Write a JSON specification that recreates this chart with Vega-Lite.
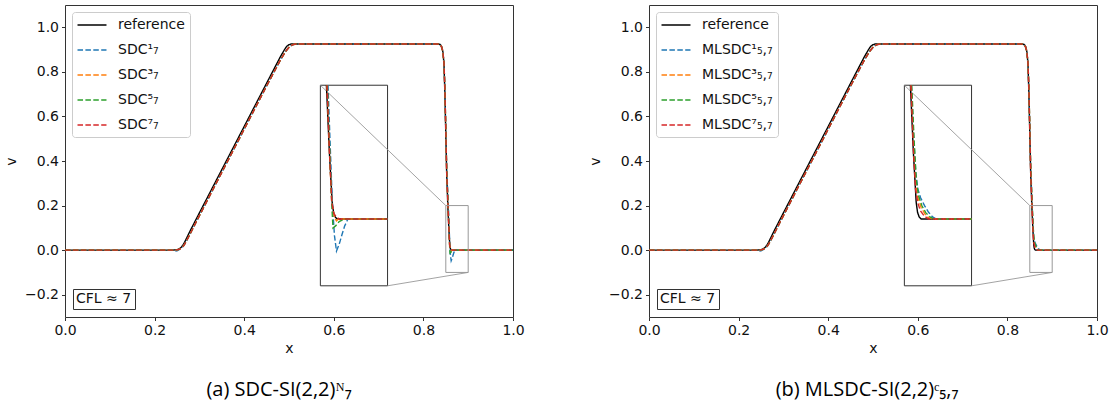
{
  "$schema": "https://vega.github.io/schema/vega-lite/v6.json",
  "padding": {"left": 4, "top": 4, "right": 5, "bottom": 5},
  "spacing": 136,
  "bounds": "flush",
  "datasets": {
    "curves": [
      {"p":"both","s":"reference","x":0,"v":0},{"p":"both","s":"reference","x":0.24,"v":0},{"p":"both","s":"reference","x":0.25,"v":0.002},{"p":"both","s":"reference","x":0.255,"v":0.006},{"p":"both","s":"reference","x":0.26,"v":0.014},{"p":"both","s":"reference","x":0.265,"v":0.028},{"p":"both","s":"reference","x":0.27,"v":0.048},{"p":"both","s":"reference","x":0.28,"v":0.089},{"p":"both","s":"reference","x":0.3,"v":0.167},{"p":"both","s":"reference","x":0.35,"v":0.361},{"p":"both","s":"reference","x":0.4,"v":0.555},{"p":"both","s":"reference","x":0.45,"v":0.749},{"p":"both","s":"reference","x":0.48,"v":0.865},{"p":"both","s":"reference","x":0.49,"v":0.9},{"p":"both","s":"reference","x":0.495,"v":0.915},{"p":"both","s":"reference","x":0.5,"v":0.922},{"p":"both","s":"reference","x":0.505,"v":0.925},{"p":"both","s":"reference","x":0.7,"v":0.925},{"p":"both","s":"reference","x":0.834,"v":0.925},{"p":"both","s":"reference","x":0.838,"v":0.922},{"p":"both","s":"reference","x":0.841,"v":0.912},{"p":"both","s":"reference","x":0.844,"v":0.885},{"p":"both","s":"reference","x":0.846,"v":0.83},{"p":"both","s":"reference","x":0.848,"v":0.7},{"p":"both","s":"reference","x":0.85,"v":0.52},{"p":"both","s":"reference","x":0.852,"v":0.34},{"p":"both","s":"reference","x":0.8545,"v":0.2},{"p":"both","s":"reference","x":0.8567,"v":0.1},{"p":"both","s":"reference","x":0.8588,"v":0.025},{"p":"both","s":"reference","x":0.8598,"v":0.01},{"p":"both","s":"reference","x":0.861,"v":0.003},{"p":"both","s":"reference","x":0.8625,"v":0},{"p":"both","s":"reference","x":0.9,"v":0},{"p":"both","s":"reference","x":1,"v":0},

      {"p":"a","s":"SDC¹₇","x":0,"v":0},{"p":"a","s":"SDC¹₇","x":0.24,"v":0},{"p":"a","s":"SDC¹₇","x":0.245,"v":-0.005},{"p":"a","s":"SDC¹₇","x":0.25,"v":-0.003},{"p":"a","s":"SDC¹₇","x":0.255,"v":0.002},{"p":"a","s":"SDC¹₇","x":0.26,"v":0.01},{"p":"a","s":"SDC¹₇","x":0.265,"v":0.02},{"p":"a","s":"SDC¹₇","x":0.27,"v":0.037},{"p":"a","s":"SDC¹₇","x":0.28,"v":0.076},{"p":"a","s":"SDC¹₇","x":0.3,"v":0.155},{"p":"a","s":"SDC¹₇","x":0.35,"v":0.349},{"p":"a","s":"SDC¹₇","x":0.4,"v":0.543},{"p":"a","s":"SDC¹₇","x":0.45,"v":0.737},{"p":"a","s":"SDC¹₇","x":0.48,"v":0.85},{"p":"a","s":"SDC¹₇","x":0.49,"v":0.884},{"p":"a","s":"SDC¹₇","x":0.495,"v":0.898},{"p":"a","s":"SDC¹₇","x":0.5,"v":0.91},{"p":"a","s":"SDC¹₇","x":0.505,"v":0.918},{"p":"a","s":"SDC¹₇","x":0.51,"v":0.923},{"p":"a","s":"SDC¹₇","x":0.515,"v":0.925},{"p":"a","s":"SDC¹₇","x":0.7,"v":0.925},{"p":"a","s":"SDC¹₇","x":0.832,"v":0.925},{"p":"a","s":"SDC¹₇","x":0.836,"v":0.923},{"p":"a","s":"SDC¹₇","x":0.84,"v":0.915},{"p":"a","s":"SDC¹₇","x":0.843,"v":0.895},{"p":"a","s":"SDC¹₇","x":0.846,"v":0.84},{"p":"a","s":"SDC¹₇","x":0.848,"v":0.72},{"p":"a","s":"SDC¹₇","x":0.85,"v":0.54},{"p":"a","s":"SDC¹₇","x":0.852,"v":0.37},{"p":"a","s":"SDC¹₇","x":0.8557,"v":0.2},{"p":"a","s":"SDC¹₇","x":0.8575,"v":0.1},{"p":"a","s":"SDC¹₇","x":0.859,"v":0.02},{"p":"a","s":"SDC¹₇","x":0.8605,"v":-0.025},{"p":"a","s":"SDC¹₇","x":0.862,"v":-0.048},{"p":"a","s":"SDC¹₇","x":0.864,"v":-0.038},{"p":"a","s":"SDC¹₇","x":0.866,"v":-0.024},{"p":"a","s":"SDC¹₇","x":0.868,"v":-0.011},{"p":"a","s":"SDC¹₇","x":0.8705,"v":0},{"p":"a","s":"SDC¹₇","x":0.9,"v":0},{"p":"a","s":"SDC¹₇","x":1,"v":0},

      {"p":"a","s":"SDC³₇","x":0,"v":0},{"p":"a","s":"SDC³₇","x":0.24,"v":0},{"p":"a","s":"SDC³₇","x":0.25,"v":0.001},{"p":"a","s":"SDC³₇","x":0.255,"v":0.004},{"p":"a","s":"SDC³₇","x":0.26,"v":0.01},{"p":"a","s":"SDC³₇","x":0.265,"v":0.02},{"p":"a","s":"SDC³₇","x":0.27,"v":0.037},{"p":"a","s":"SDC³₇","x":0.28,"v":0.076},{"p":"a","s":"SDC³₇","x":0.3,"v":0.155},{"p":"a","s":"SDC³₇","x":0.35,"v":0.349},{"p":"a","s":"SDC³₇","x":0.4,"v":0.543},{"p":"a","s":"SDC³₇","x":0.45,"v":0.737},{"p":"a","s":"SDC³₇","x":0.48,"v":0.85},{"p":"a","s":"SDC³₇","x":0.49,"v":0.884},{"p":"a","s":"SDC³₇","x":0.495,"v":0.898},{"p":"a","s":"SDC³₇","x":0.5,"v":0.91},{"p":"a","s":"SDC³₇","x":0.505,"v":0.918},{"p":"a","s":"SDC³₇","x":0.51,"v":0.923},{"p":"a","s":"SDC³₇","x":0.515,"v":0.925},{"p":"a","s":"SDC³₇","x":0.7,"v":0.925},{"p":"a","s":"SDC³₇","x":0.832,"v":0.925},{"p":"a","s":"SDC³₇","x":0.836,"v":0.923},{"p":"a","s":"SDC³₇","x":0.84,"v":0.915},{"p":"a","s":"SDC³₇","x":0.843,"v":0.895},{"p":"a","s":"SDC³₇","x":0.846,"v":0.84},{"p":"a","s":"SDC³₇","x":0.848,"v":0.72},{"p":"a","s":"SDC³₇","x":0.85,"v":0.54},{"p":"a","s":"SDC³₇","x":0.852,"v":0.35},{"p":"a","s":"SDC³₇","x":0.855,"v":0.2},{"p":"a","s":"SDC³₇","x":0.857,"v":0.09},{"p":"a","s":"SDC³₇","x":0.8585,"v":0.025},{"p":"a","s":"SDC³₇","x":0.8605,"v":0.002},{"p":"a","s":"SDC³₇","x":0.862,"v":-0.003},{"p":"a","s":"SDC³₇","x":0.864,"v":0.001},{"p":"a","s":"SDC³₇","x":0.866,"v":0},{"p":"a","s":"SDC³₇","x":0.9,"v":0},{"p":"a","s":"SDC³₇","x":1,"v":0},

      {"p":"a","s":"SDC⁵₇","x":0,"v":0},{"p":"a","s":"SDC⁵₇","x":0.24,"v":0},{"p":"a","s":"SDC⁵₇","x":0.25,"v":0.001},{"p":"a","s":"SDC⁵₇","x":0.255,"v":0.004},{"p":"a","s":"SDC⁵₇","x":0.26,"v":0.01},{"p":"a","s":"SDC⁵₇","x":0.265,"v":0.02},{"p":"a","s":"SDC⁵₇","x":0.27,"v":0.037},{"p":"a","s":"SDC⁵₇","x":0.28,"v":0.076},{"p":"a","s":"SDC⁵₇","x":0.3,"v":0.155},{"p":"a","s":"SDC⁵₇","x":0.35,"v":0.349},{"p":"a","s":"SDC⁵₇","x":0.4,"v":0.543},{"p":"a","s":"SDC⁵₇","x":0.45,"v":0.737},{"p":"a","s":"SDC⁵₇","x":0.48,"v":0.85},{"p":"a","s":"SDC⁵₇","x":0.49,"v":0.884},{"p":"a","s":"SDC⁵₇","x":0.495,"v":0.898},{"p":"a","s":"SDC⁵₇","x":0.5,"v":0.91},{"p":"a","s":"SDC⁵₇","x":0.505,"v":0.918},{"p":"a","s":"SDC⁵₇","x":0.51,"v":0.923},{"p":"a","s":"SDC⁵₇","x":0.515,"v":0.925},{"p":"a","s":"SDC⁵₇","x":0.7,"v":0.925},{"p":"a","s":"SDC⁵₇","x":0.832,"v":0.925},{"p":"a","s":"SDC⁵₇","x":0.836,"v":0.923},{"p":"a","s":"SDC⁵₇","x":0.84,"v":0.915},{"p":"a","s":"SDC⁵₇","x":0.843,"v":0.895},{"p":"a","s":"SDC⁵₇","x":0.846,"v":0.84},{"p":"a","s":"SDC⁵₇","x":0.848,"v":0.72},{"p":"a","s":"SDC⁵₇","x":0.85,"v":0.54},{"p":"a","s":"SDC⁵₇","x":0.852,"v":0.36},{"p":"a","s":"SDC⁵₇","x":0.8552,"v":0.2},{"p":"a","s":"SDC⁵₇","x":0.857,"v":0.1},{"p":"a","s":"SDC⁵₇","x":0.8585,"v":0.02},{"p":"a","s":"SDC⁵₇","x":0.8594,"v":-0.0135},{"p":"a","s":"SDC⁵₇","x":0.8615,"v":-0.01},{"p":"a","s":"SDC⁵₇","x":0.864,"v":-0.004},{"p":"a","s":"SDC⁵₇","x":0.868,"v":0},{"p":"a","s":"SDC⁵₇","x":0.9,"v":0},{"p":"a","s":"SDC⁵₇","x":1,"v":0},

      {"p":"a","s":"SDC⁷₇","x":0,"v":0},{"p":"a","s":"SDC⁷₇","x":0.24,"v":0},{"p":"a","s":"SDC⁷₇","x":0.25,"v":0.001},{"p":"a","s":"SDC⁷₇","x":0.255,"v":0.004},{"p":"a","s":"SDC⁷₇","x":0.26,"v":0.01},{"p":"a","s":"SDC⁷₇","x":0.265,"v":0.02},{"p":"a","s":"SDC⁷₇","x":0.27,"v":0.037},{"p":"a","s":"SDC⁷₇","x":0.28,"v":0.076},{"p":"a","s":"SDC⁷₇","x":0.3,"v":0.155},{"p":"a","s":"SDC⁷₇","x":0.35,"v":0.349},{"p":"a","s":"SDC⁷₇","x":0.4,"v":0.543},{"p":"a","s":"SDC⁷₇","x":0.45,"v":0.737},{"p":"a","s":"SDC⁷₇","x":0.48,"v":0.85},{"p":"a","s":"SDC⁷₇","x":0.49,"v":0.884},{"p":"a","s":"SDC⁷₇","x":0.495,"v":0.898},{"p":"a","s":"SDC⁷₇","x":0.5,"v":0.91},{"p":"a","s":"SDC⁷₇","x":0.505,"v":0.918},{"p":"a","s":"SDC⁷₇","x":0.51,"v":0.923},{"p":"a","s":"SDC⁷₇","x":0.515,"v":0.925},{"p":"a","s":"SDC⁷₇","x":0.7,"v":0.925},{"p":"a","s":"SDC⁷₇","x":0.832,"v":0.925},{"p":"a","s":"SDC⁷₇","x":0.836,"v":0.923},{"p":"a","s":"SDC⁷₇","x":0.84,"v":0.915},{"p":"a","s":"SDC⁷₇","x":0.843,"v":0.895},{"p":"a","s":"SDC⁷₇","x":0.846,"v":0.84},{"p":"a","s":"SDC⁷₇","x":0.848,"v":0.72},{"p":"a","s":"SDC⁷₇","x":0.85,"v":0.54},{"p":"a","s":"SDC⁷₇","x":0.852,"v":0.35},{"p":"a","s":"SDC⁷₇","x":0.855,"v":0.2},{"p":"a","s":"SDC⁷₇","x":0.857,"v":0.09},{"p":"a","s":"SDC⁷₇","x":0.8585,"v":0.025},{"p":"a","s":"SDC⁷₇","x":0.86,"v":0.008},{"p":"a","s":"SDC⁷₇","x":0.862,"v":0.003},{"p":"a","s":"SDC⁷₇","x":0.864,"v":0},{"p":"a","s":"SDC⁷₇","x":0.9,"v":0},{"p":"a","s":"SDC⁷₇","x":1,"v":0},

      {"p":"b","s":"MLSDC¹₅,₇","x":0,"v":0},{"p":"b","s":"MLSDC¹₅,₇","x":0.24,"v":0},{"p":"b","s":"MLSDC¹₅,₇","x":0.245,"v":-0.005},{"p":"b","s":"MLSDC¹₅,₇","x":0.25,"v":-0.003},{"p":"b","s":"MLSDC¹₅,₇","x":0.255,"v":0.002},{"p":"b","s":"MLSDC¹₅,₇","x":0.26,"v":0.01},{"p":"b","s":"MLSDC¹₅,₇","x":0.265,"v":0.02},{"p":"b","s":"MLSDC¹₅,₇","x":0.27,"v":0.037},{"p":"b","s":"MLSDC¹₅,₇","x":0.28,"v":0.076},{"p":"b","s":"MLSDC¹₅,₇","x":0.3,"v":0.155},{"p":"b","s":"MLSDC¹₅,₇","x":0.35,"v":0.349},{"p":"b","s":"MLSDC¹₅,₇","x":0.4,"v":0.543},{"p":"b","s":"MLSDC¹₅,₇","x":0.45,"v":0.737},{"p":"b","s":"MLSDC¹₅,₇","x":0.48,"v":0.85},{"p":"b","s":"MLSDC¹₅,₇","x":0.49,"v":0.884},{"p":"b","s":"MLSDC¹₅,₇","x":0.495,"v":0.898},{"p":"b","s":"MLSDC¹₅,₇","x":0.5,"v":0.91},{"p":"b","s":"MLSDC¹₅,₇","x":0.505,"v":0.918},{"p":"b","s":"MLSDC¹₅,₇","x":0.51,"v":0.923},{"p":"b","s":"MLSDC¹₅,₇","x":0.515,"v":0.925},{"p":"b","s":"MLSDC¹₅,₇","x":0.7,"v":0.925},{"p":"b","s":"MLSDC¹₅,₇","x":0.832,"v":0.925},{"p":"b","s":"MLSDC¹₅,₇","x":0.836,"v":0.923},{"p":"b","s":"MLSDC¹₅,₇","x":0.84,"v":0.915},{"p":"b","s":"MLSDC¹₅,₇","x":0.843,"v":0.895},{"p":"b","s":"MLSDC¹₅,₇","x":0.846,"v":0.84},{"p":"b","s":"MLSDC¹₅,₇","x":0.848,"v":0.72},{"p":"b","s":"MLSDC¹₅,₇","x":0.85,"v":0.54},{"p":"b","s":"MLSDC¹₅,₇","x":0.852,"v":0.37},{"p":"b","s":"MLSDC¹₅,₇","x":0.8552,"v":0.2},{"p":"b","s":"MLSDC¹₅,₇","x":0.857,"v":0.12},{"p":"b","s":"MLSDC¹₅,₇","x":0.8585,"v":0.07},{"p":"b","s":"MLSDC¹₅,₇","x":0.86,"v":0.045},{"p":"b","s":"MLSDC¹₅,₇","x":0.862,"v":0.032},{"p":"b","s":"MLSDC¹₅,₇","x":0.865,"v":0.02},{"p":"b","s":"MLSDC¹₅,₇","x":0.868,"v":0.01},{"p":"b","s":"MLSDC¹₅,₇","x":0.871,"v":0.003},{"p":"b","s":"MLSDC¹₅,₇","x":0.8735,"v":0},{"p":"b","s":"MLSDC¹₅,₇","x":0.9,"v":0},{"p":"b","s":"MLSDC¹₅,₇","x":1,"v":0},

      {"p":"b","s":"MLSDC³₅,₇","x":0,"v":0},{"p":"b","s":"MLSDC³₅,₇","x":0.24,"v":0},{"p":"b","s":"MLSDC³₅,₇","x":0.25,"v":0.001},{"p":"b","s":"MLSDC³₅,₇","x":0.255,"v":0.004},{"p":"b","s":"MLSDC³₅,₇","x":0.26,"v":0.01},{"p":"b","s":"MLSDC³₅,₇","x":0.265,"v":0.02},{"p":"b","s":"MLSDC³₅,₇","x":0.27,"v":0.037},{"p":"b","s":"MLSDC³₅,₇","x":0.28,"v":0.076},{"p":"b","s":"MLSDC³₅,₇","x":0.3,"v":0.155},{"p":"b","s":"MLSDC³₅,₇","x":0.35,"v":0.349},{"p":"b","s":"MLSDC³₅,₇","x":0.4,"v":0.543},{"p":"b","s":"MLSDC³₅,₇","x":0.45,"v":0.737},{"p":"b","s":"MLSDC³₅,₇","x":0.48,"v":0.85},{"p":"b","s":"MLSDC³₅,₇","x":0.49,"v":0.884},{"p":"b","s":"MLSDC³₅,₇","x":0.495,"v":0.898},{"p":"b","s":"MLSDC³₅,₇","x":0.5,"v":0.91},{"p":"b","s":"MLSDC³₅,₇","x":0.505,"v":0.918},{"p":"b","s":"MLSDC³₅,₇","x":0.51,"v":0.923},{"p":"b","s":"MLSDC³₅,₇","x":0.515,"v":0.925},{"p":"b","s":"MLSDC³₅,₇","x":0.7,"v":0.925},{"p":"b","s":"MLSDC³₅,₇","x":0.832,"v":0.925},{"p":"b","s":"MLSDC³₅,₇","x":0.836,"v":0.923},{"p":"b","s":"MLSDC³₅,₇","x":0.84,"v":0.915},{"p":"b","s":"MLSDC³₅,₇","x":0.843,"v":0.895},{"p":"b","s":"MLSDC³₅,₇","x":0.846,"v":0.84},{"p":"b","s":"MLSDC³₅,₇","x":0.848,"v":0.72},{"p":"b","s":"MLSDC³₅,₇","x":0.85,"v":0.54},{"p":"b","s":"MLSDC³₅,₇","x":0.852,"v":0.36},{"p":"b","s":"MLSDC³₅,₇","x":0.855,"v":0.2},{"p":"b","s":"MLSDC³₅,₇","x":0.857,"v":0.11},{"p":"b","s":"MLSDC³₅,₇","x":0.8585,"v":0.055},{"p":"b","s":"MLSDC³₅,₇","x":0.86,"v":0.032},{"p":"b","s":"MLSDC³₅,₇","x":0.8625,"v":0.017},{"p":"b","s":"MLSDC³₅,₇","x":0.8655,"v":0.007},{"p":"b","s":"MLSDC³₅,₇","x":0.868,"v":0.002},{"p":"b","s":"MLSDC³₅,₇","x":0.871,"v":0},{"p":"b","s":"MLSDC³₅,₇","x":0.9,"v":0},{"p":"b","s":"MLSDC³₅,₇","x":1,"v":0},

      {"p":"b","s":"MLSDC⁵₅,₇","x":0,"v":0},{"p":"b","s":"MLSDC⁵₅,₇","x":0.24,"v":0},{"p":"b","s":"MLSDC⁵₅,₇","x":0.25,"v":0.001},{"p":"b","s":"MLSDC⁵₅,₇","x":0.255,"v":0.004},{"p":"b","s":"MLSDC⁵₅,₇","x":0.26,"v":0.01},{"p":"b","s":"MLSDC⁵₅,₇","x":0.265,"v":0.02},{"p":"b","s":"MLSDC⁵₅,₇","x":0.27,"v":0.037},{"p":"b","s":"MLSDC⁵₅,₇","x":0.28,"v":0.076},{"p":"b","s":"MLSDC⁵₅,₇","x":0.3,"v":0.155},{"p":"b","s":"MLSDC⁵₅,₇","x":0.35,"v":0.349},{"p":"b","s":"MLSDC⁵₅,₇","x":0.4,"v":0.543},{"p":"b","s":"MLSDC⁵₅,₇","x":0.45,"v":0.737},{"p":"b","s":"MLSDC⁵₅,₇","x":0.48,"v":0.85},{"p":"b","s":"MLSDC⁵₅,₇","x":0.49,"v":0.884},{"p":"b","s":"MLSDC⁵₅,₇","x":0.495,"v":0.898},{"p":"b","s":"MLSDC⁵₅,₇","x":0.5,"v":0.91},{"p":"b","s":"MLSDC⁵₅,₇","x":0.505,"v":0.918},{"p":"b","s":"MLSDC⁵₅,₇","x":0.51,"v":0.923},{"p":"b","s":"MLSDC⁵₅,₇","x":0.515,"v":0.925},{"p":"b","s":"MLSDC⁵₅,₇","x":0.7,"v":0.925},{"p":"b","s":"MLSDC⁵₅,₇","x":0.832,"v":0.925},{"p":"b","s":"MLSDC⁵₅,₇","x":0.836,"v":0.923},{"p":"b","s":"MLSDC⁵₅,₇","x":0.84,"v":0.915},{"p":"b","s":"MLSDC⁵₅,₇","x":0.843,"v":0.895},{"p":"b","s":"MLSDC⁵₅,₇","x":0.846,"v":0.84},{"p":"b","s":"MLSDC⁵₅,₇","x":0.848,"v":0.72},{"p":"b","s":"MLSDC⁵₅,₇","x":0.85,"v":0.55},{"p":"b","s":"MLSDC⁵₅,₇","x":0.852,"v":0.38},{"p":"b","s":"MLSDC⁵₅,₇","x":0.8555,"v":0.2},{"p":"b","s":"MLSDC⁵₅,₇","x":0.8572,"v":0.12},{"p":"b","s":"MLSDC⁵₅,₇","x":0.8588,"v":0.06},{"p":"b","s":"MLSDC⁵₅,₇","x":0.8605,"v":0.035},{"p":"b","s":"MLSDC⁵₅,₇","x":0.863,"v":0.02},{"p":"b","s":"MLSDC⁵₅,₇","x":0.866,"v":0.009},{"p":"b","s":"MLSDC⁵₅,₇","x":0.869,"v":0.003},{"p":"b","s":"MLSDC⁵₅,₇","x":0.872,"v":0},{"p":"b","s":"MLSDC⁵₅,₇","x":0.9,"v":0},{"p":"b","s":"MLSDC⁵₅,₇","x":1,"v":0},

      {"p":"b","s":"MLSDC⁷₅,₇","x":0,"v":0},{"p":"b","s":"MLSDC⁷₅,₇","x":0.24,"v":0},{"p":"b","s":"MLSDC⁷₅,₇","x":0.25,"v":0.001},{"p":"b","s":"MLSDC⁷₅,₇","x":0.255,"v":0.004},{"p":"b","s":"MLSDC⁷₅,₇","x":0.26,"v":0.01},{"p":"b","s":"MLSDC⁷₅,₇","x":0.265,"v":0.02},{"p":"b","s":"MLSDC⁷₅,₇","x":0.27,"v":0.037},{"p":"b","s":"MLSDC⁷₅,₇","x":0.28,"v":0.076},{"p":"b","s":"MLSDC⁷₅,₇","x":0.3,"v":0.155},{"p":"b","s":"MLSDC⁷₅,₇","x":0.35,"v":0.349},{"p":"b","s":"MLSDC⁷₅,₇","x":0.4,"v":0.543},{"p":"b","s":"MLSDC⁷₅,₇","x":0.45,"v":0.737},{"p":"b","s":"MLSDC⁷₅,₇","x":0.48,"v":0.85},{"p":"b","s":"MLSDC⁷₅,₇","x":0.49,"v":0.884},{"p":"b","s":"MLSDC⁷₅,₇","x":0.495,"v":0.898},{"p":"b","s":"MLSDC⁷₅,₇","x":0.5,"v":0.91},{"p":"b","s":"MLSDC⁷₅,₇","x":0.505,"v":0.918},{"p":"b","s":"MLSDC⁷₅,₇","x":0.51,"v":0.923},{"p":"b","s":"MLSDC⁷₅,₇","x":0.515,"v":0.925},{"p":"b","s":"MLSDC⁷₅,₇","x":0.7,"v":0.925},{"p":"b","s":"MLSDC⁷₅,₇","x":0.832,"v":0.925},{"p":"b","s":"MLSDC⁷₅,₇","x":0.836,"v":0.923},{"p":"b","s":"MLSDC⁷₅,₇","x":0.84,"v":0.915},{"p":"b","s":"MLSDC⁷₅,₇","x":0.843,"v":0.895},{"p":"b","s":"MLSDC⁷₅,₇","x":0.846,"v":0.84},{"p":"b","s":"MLSDC⁷₅,₇","x":0.848,"v":0.72},{"p":"b","s":"MLSDC⁷₅,₇","x":0.85,"v":0.54},{"p":"b","s":"MLSDC⁷₅,₇","x":0.852,"v":0.35},{"p":"b","s":"MLSDC⁷₅,₇","x":0.855,"v":0.2},{"p":"b","s":"MLSDC⁷₅,₇","x":0.8568,"v":0.1},{"p":"b","s":"MLSDC⁷₅,₇","x":0.8583,"v":0.045},{"p":"b","s":"MLSDC⁷₅,₇","x":0.86,"v":0.024},{"p":"b","s":"MLSDC⁷₅,₇","x":0.862,"v":0.012},{"p":"b","s":"MLSDC⁷₅,₇","x":0.865,"v":0.004},{"p":"b","s":"MLSDC⁷₅,₇","x":0.868,"v":0},{"p":"b","s":"MLSDC⁷₅,₇","x":0.9,"v":0},{"p":"b","s":"MLSDC⁷₅,₇","x":1,"v":0}
    ]
  },
  "hconcat": [
    {
      "width": 448,
      "height": 312,
      "data": {"name": "curves"},
      "transform": [{"filter": "datum.p != 'b'"}],
      "title": {"text": "(a)  SDC-SI(2,2)ᴺ₇", "orient": "bottom", "anchor": "middle", "font": "Open Sans", "fontSize": 20, "fontWeight": "normal", "color": "#000", "offset": 24, "dx": -10},
      "layer": [
        {
          "layer": [
            {
              "mark": {"type": "line", "strokeWidth": 1.4},
              "encoding": {
                "x": {"field": "x", "type": "quantitative", "scale": {"domain": [0, 1], "nice": false, "zero": false},
                      "axis": {"title": "x", "values": [0, 0.2, 0.4, 0.6, 0.8, 1], "format": ".1f", "labelFlush": false, "titlePadding": 4}},
                "y": {"field": "v", "type": "quantitative", "scale": {"domain": [-0.3, 1.1], "nice": false, "zero": false},
                      "axis": {"title": "v", "values": [-0.2, 0, 0.2, 0.4, 0.6, 0.8, 1], "labelExpr": "replace(format(datum.value, '.1f'), '-', '−')", "titlePadding": 6}},
                "color": {"field": "s", "type": "nominal", "sort": null,
                          "scale": {"domain": ["reference", "SDC¹₇", "SDC³₇", "SDC⁵₇", "SDC⁷₇"], "range": ["#000000", "#1f77b4", "#ff7f0e", "#2ca02c", "#d62728"]},
                          "legend": {"title": null, "orient": "top-left", "offset": 7, "padding": 5, "fillColor": "white", "strokeColor": "#cccccc", "cornerRadius": 3, "symbolType": "M-2,0H2", "symbolSize": 210, "symbolStrokeWidth": 1.5, "symbolOffset": 7, "labelOffset": 18, "rowPadding": 10, "labelFontSize": 14}},
                "strokeDash": {"field": "s", "type": "nominal", "sort": null,
                               "scale": {"domain": ["reference", "SDC¹₇", "SDC³₇", "SDC⁵₇", "SDC⁷₇"], "range": [[1, 0], [5.5, 2.4], [5.5, 2.4], [5.5, 2.4], [5.5, 2.4]]},
                               "legend": {"title": null, "orient": "top-left", "offset": 7, "padding": 5, "fillColor": "white", "strokeColor": "#cccccc", "cornerRadius": 3, "symbolType": "M-2,0H2", "symbolSize": 210, "symbolStrokeWidth": 1.5, "symbolOffset": 7, "labelOffset": 18, "rowPadding": 10, "labelFontSize": 14}}
              }
            },
            {
              "data": {"values": [{}]},
              "mark": {"type": "rect", "fill": "white", "stroke": "#333333", "strokeWidth": 1},
              "encoding": {"x": {"datum": 0.57}, "x2": {"datum": 0.72}, "y": {"datum": -0.16}, "y2": {"datum": 0.74}}
            },
            {
              "data": {"values": [{}]},
              "mark": {"type": "rect", "fill": null, "stroke": "#999999", "strokeWidth": 1},
              "encoding": {"x": {"datum": 0.85}, "x2": {"datum": 0.9}, "y": {"datum": -0.1}, "y2": {"datum": 0.2}}
            },
            {
              "data": {"values": [{}]},
              "mark": {"type": "rule", "stroke": "#999999", "strokeWidth": 0.9},
              "encoding": {"x": {"datum": 0.57}, "y": {"datum": 0.74}, "x2": {"datum": 0.85}, "y2": {"datum": 0.2}}
            },
            {
              "data": {"values": [{}]},
              "mark": {"type": "rule", "stroke": "#999999", "strokeWidth": 0.9},
              "encoding": {"x": {"datum": 0.72}, "y": {"datum": -0.16}, "x2": {"datum": 0.9}, "y2": {"datum": -0.1}}
            },
            {
              "data": {"values": [{"note": "CFL ≈ 7"}]},
              "mark": {"type": "point", "opacity": 0},
              "encoding": {
                "shape": {"field": "note", "type": "nominal",
                          "legend": {"title": null, "orient": "bottom-left", "offset": 8, "padding": 3, "fillColor": "white", "strokeColor": "#333333", "cornerRadius": 0, "symbolSize": 0, "symbolOpacity": 0, "symbolStrokeWidth": 0, "labelOffset": -14, "labelFontSize": 14}}
              }
            }
          ]
        },
        {
          "transform": [{"filter": "datum.x >= 0.85 && datum.x <= 0.9 && datum.v <= 0.2001"}],
          "mark": {"type": "line", "strokeWidth": 1.4},
          "encoding": {
            "x": {"field": "x", "type": "quantitative", "scale": {"domain": [0.66, 0.993333], "nice": false, "zero": false}, "axis": null},
            "y": {"field": "v", "type": "quantitative", "scale": {"domain": [-0.146667, 0.32], "nice": false, "zero": false}, "axis": null},
            "color": {"field": "s", "type": "nominal", "sort": null},
            "strokeDash": {"field": "s", "type": "nominal", "sort": null}
          }
        }
      ],
      "resolve": {"scale": {"x": "independent", "y": "independent"}}
    },
    {
      "width": 448,
      "height": 312,
      "data": {"name": "curves"},
      "transform": [{"filter": "datum.p != 'a'"}],
      "title": {"text": "(b)  MLSDC-SI(2,2)ᶜ₅,₇", "orient": "bottom", "anchor": "middle", "font": "Open Sans", "fontSize": 20, "fontWeight": "normal", "color": "#000", "offset": 24, "dx": -6},
      "layer": [
        {
          "layer": [
            {
              "mark": {"type": "line", "strokeWidth": 1.4},
              "encoding": {
                "x": {"field": "x", "type": "quantitative", "scale": {"domain": [0, 1], "nice": false, "zero": false},
                      "axis": {"title": "x", "values": [0, 0.2, 0.4, 0.6, 0.8, 1], "format": ".1f", "labelFlush": false, "titlePadding": 4}},
                "y": {"field": "v", "type": "quantitative", "scale": {"domain": [-0.3, 1.1], "nice": false, "zero": false},
                      "axis": {"title": "v", "values": [-0.2, 0, 0.2, 0.4, 0.6, 0.8, 1], "labelExpr": "replace(format(datum.value, '.1f'), '-', '−')", "titlePadding": 6}},
                "color": {"field": "s", "type": "nominal", "sort": null,
                          "scale": {"domain": ["reference", "MLSDC¹₅,₇", "MLSDC³₅,₇", "MLSDC⁵₅,₇", "MLSDC⁷₅,₇"], "range": ["#000000", "#1f77b4", "#ff7f0e", "#2ca02c", "#d62728"]},
                          "legend": {"title": null, "orient": "top-left", "offset": 7, "padding": 5, "fillColor": "white", "strokeColor": "#cccccc", "cornerRadius": 3, "symbolType": "M-2,0H2", "symbolSize": 210, "symbolStrokeWidth": 1.5, "symbolOffset": 7, "labelOffset": 18, "rowPadding": 10, "labelFontSize": 14}},
                "strokeDash": {"field": "s", "type": "nominal", "sort": null,
                               "scale": {"domain": ["reference", "MLSDC¹₅,₇", "MLSDC³₅,₇", "MLSDC⁵₅,₇", "MLSDC⁷₅,₇"], "range": [[1, 0], [5.5, 2.4], [5.5, 2.4], [5.5, 2.4], [5.5, 2.4]]},
                               "legend": {"title": null, "orient": "top-left", "offset": 7, "padding": 5, "fillColor": "white", "strokeColor": "#cccccc", "cornerRadius": 3, "symbolType": "M-2,0H2", "symbolSize": 210, "symbolStrokeWidth": 1.5, "symbolOffset": 7, "labelOffset": 18, "rowPadding": 10, "labelFontSize": 14}}
              }
            },
            {
              "data": {"values": [{}]},
              "mark": {"type": "rect", "fill": "white", "stroke": "#333333", "strokeWidth": 1},
              "encoding": {"x": {"datum": 0.57}, "x2": {"datum": 0.72}, "y": {"datum": -0.16}, "y2": {"datum": 0.74}}
            },
            {
              "data": {"values": [{}]},
              "mark": {"type": "rect", "fill": null, "stroke": "#999999", "strokeWidth": 1},
              "encoding": {"x": {"datum": 0.85}, "x2": {"datum": 0.9}, "y": {"datum": -0.1}, "y2": {"datum": 0.2}}
            },
            {
              "data": {"values": [{}]},
              "mark": {"type": "rule", "stroke": "#999999", "strokeWidth": 0.9},
              "encoding": {"x": {"datum": 0.57}, "y": {"datum": 0.74}, "x2": {"datum": 0.85}, "y2": {"datum": 0.2}}
            },
            {
              "data": {"values": [{}]},
              "mark": {"type": "rule", "stroke": "#999999", "strokeWidth": 0.9},
              "encoding": {"x": {"datum": 0.72}, "y": {"datum": -0.16}, "x2": {"datum": 0.9}, "y2": {"datum": -0.1}}
            },
            {
              "data": {"values": [{"note": "CFL ≈ 7"}]},
              "mark": {"type": "point", "opacity": 0},
              "encoding": {
                "shape": {"field": "note", "type": "nominal",
                          "legend": {"title": null, "orient": "bottom-left", "offset": 8, "padding": 3, "fillColor": "white", "strokeColor": "#333333", "cornerRadius": 0, "symbolSize": 0, "symbolOpacity": 0, "symbolStrokeWidth": 0, "labelOffset": -14, "labelFontSize": 14}}
              }
            }
          ]
        },
        {
          "transform": [{"filter": "datum.x >= 0.85 && datum.x <= 0.9 && datum.v <= 0.2001"}],
          "mark": {"type": "line", "strokeWidth": 1.4},
          "encoding": {
            "x": {"field": "x", "type": "quantitative", "scale": {"domain": [0.66, 0.993333], "nice": false, "zero": false}, "axis": null},
            "y": {"field": "v", "type": "quantitative", "scale": {"domain": [-0.146667, 0.32], "nice": false, "zero": false}, "axis": null},
            "color": {"field": "s", "type": "nominal", "sort": null},
            "strokeDash": {"field": "s", "type": "nominal", "sort": null}
          }
        }
      ],
      "resolve": {"scale": {"x": "independent", "y": "independent"}}
    }
  ],
  "resolve": {
    "scale": {"x": "independent", "y": "independent", "color": "independent", "strokeDash": "independent", "shape": "independent"},
    "legend": {"color": "independent", "strokeDash": "independent", "shape": "independent"}
  },
  "config": {
    "font": "DejaVu Sans",
    "view": {"stroke": "#333333", "strokeWidth": 1},
    "axis": {"domain": false, "grid": false, "tickColor": "#333333", "tickSize": 3.5, "tickWidth": 1, "labelPadding": 3, "labelFont": "DejaVu Sans", "labelFontSize": 14, "labelColor": "#111111", "titleFont": "DejaVu Sans", "titleFontSize": 14, "titleFontWeight": "normal", "titleColor": "#111111"},
    "legend": {"labelFont": "DejaVu Sans", "labelFontSize": 14, "labelColor": "#111111"}
  }
}
